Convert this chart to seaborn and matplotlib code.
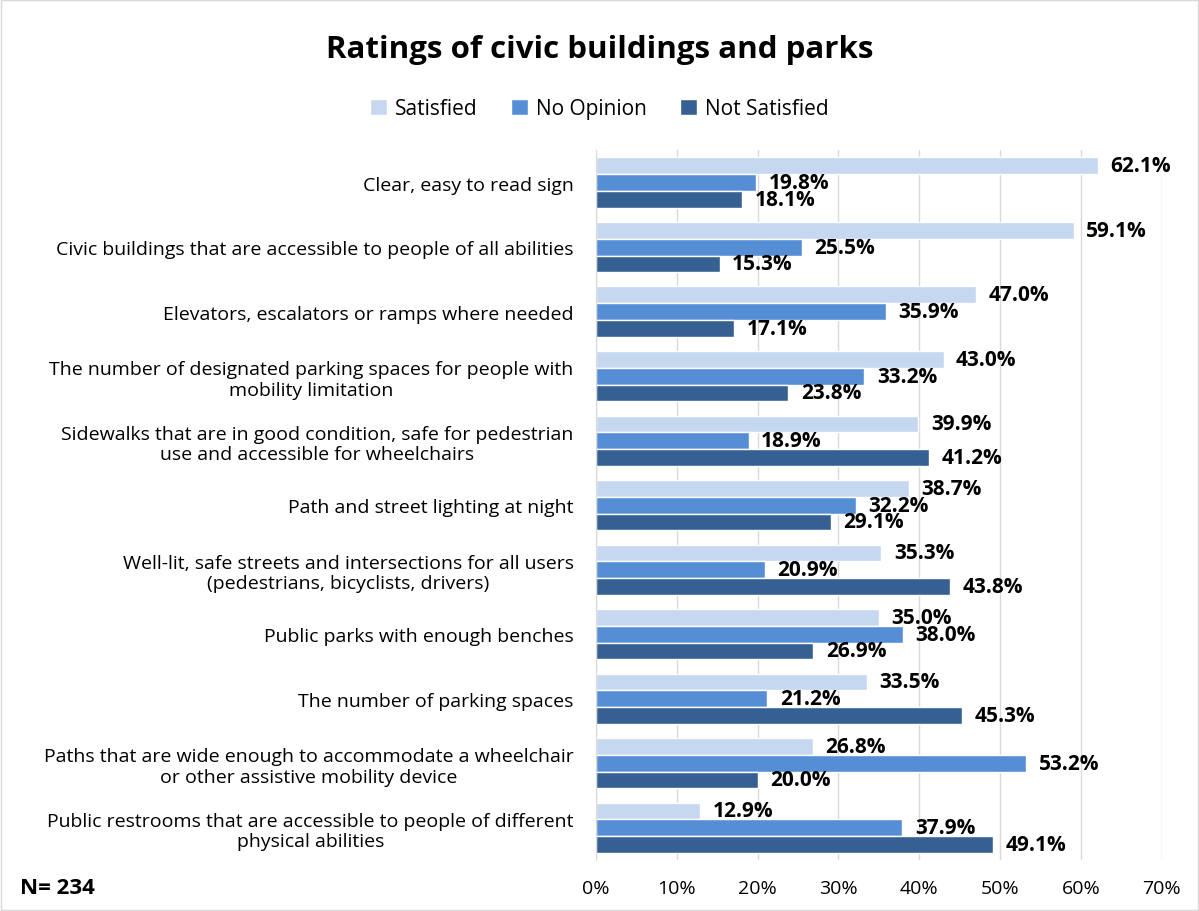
import pandas as pd
import matplotlib
matplotlib.use("Agg")
import matplotlib.pyplot as plt
import seaborn as sns
from matplotlib.patches import Rectangle

# Data
categories = [
    "Clear, easy to read sign",
    "Civic buildings that are accessible to people of all abilities",
    "Elevators, escalators or ramps where needed",
    "The number of designated parking spaces for people with\nmobility limitation",
    "Sidewalks that are in good condition, safe for pedestrian\nuse and accessible for wheelchairs",
    "Path and street lighting at night",
    "Well-lit, safe streets and intersections for all users\n(pedestrians, bicyclists, drivers)",
    "Public parks with enough benches",
    "The number of parking spaces",
    "Paths that are wide enough to accommodate a wheelchair\nor other assistive mobility device",
    "Public restrooms that are accessible to people of different\nphysical abilities",
]
satisfied = [62.1, 59.1, 47.0, 43.0, 39.9, 38.7, 35.3, 35.0, 33.5, 26.8, 12.9]
no_opinion = [19.8, 25.5, 35.9, 33.2, 18.9, 32.2, 20.9, 38.0, 21.2, 53.2, 37.9]
not_satisfied = [18.1, 15.3, 17.1, 23.8, 41.2, 29.1, 43.8, 26.9, 45.3, 20.0, 49.1]
series = ["Satisfied", "No Opinion", "Not Satisfied"]
colors = ["#C6D8F0", "#558ED5", "#376092"]

df = pd.DataFrame({"Category": categories, "Satisfied": satisfied,
                   "No Opinion": no_opinion, "Not Satisfied": not_satisfied})
long = df.melt(id_vars="Category", var_name="Rating", value_name="Pct")

sns.set_style("white")
plt.rcParams["font.family"] = ["Open Sans", "DejaVu Sans"]
plt.rcParams["text.color"] = "black"
plt.rcParams["xtick.color"] = "black"
plt.rcParams["ytick.color"] = "black"

fig = plt.figure(figsize=(11.99, 9.12), dpi=100)
ax = fig.add_axes([0.497, 0.056, 0.472, 0.778])

sns.barplot(data=long, y="Category", x="Pct", hue="Rating", hue_order=series,
            order=categories, palette=colors, width=0.78, orient="h",
            saturation=1, ax=ax, legend=True)

for cont in ax.containers:
    ax.bar_label(cont, labels=[f"{v:.1f}%" for v in cont.datavalues],
                 padding=9, fontsize=15, fontweight="bold", color="black")

ax.set_xlim(0, 70)
ax.set_xticks(range(0, 71, 10))
ax.set_xticklabels([f"{t}%" for t in range(0, 71, 10)], fontsize=14)
ax.tick_params(axis="x", length=0, pad=14)
ax.tick_params(axis="y", length=0, pad=16, labelsize=14)
for lbl in ax.get_yticklabels():
    lbl.set_horizontalalignment("right")
    lbl.set_multialignment("center")
ax.set_xlabel("")
ax.set_ylabel("")
ax.grid(axis="x", color="#D9D9D9", linewidth=1)
ax.set_axisbelow(True)
for s in ["top", "right", "bottom"]:
    ax.spines[s].set_visible(False)
ax.spines["left"].set_color("#D9D9D9")

ax.legend(loc="upper center", bbox_to_anchor=(0.5, 0.912), bbox_transform=fig.transFigure,
          ncol=3, frameon=False, fontsize=15, handlelength=0.8, handleheight=0.8,
          handletextpad=0.4, columnspacing=1.6)

fig.text(0.5, 0.945, "Ratings of civic buildings and parks", ha="center", va="center",
         fontsize=22.5, fontweight="bold")
fig.text(0.017, 0.026, "N= 234", ha="left", va="center", fontsize=16, fontweight="bold")

fig.patches.append(Rectangle((0.001, 0.001), 0.998, 0.998, transform=fig.transFigure,
                             fill=False, edgecolor="#D9D9D9", linewidth=1))

fig.savefig("out.png", dpi=100)
